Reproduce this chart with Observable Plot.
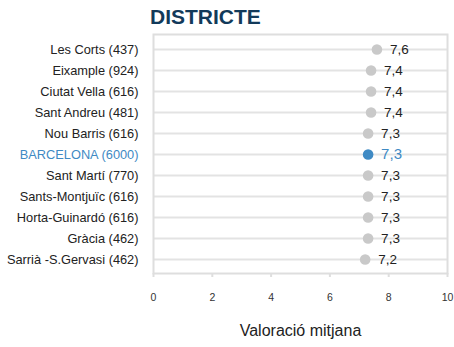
<!DOCTYPE html>
<html>
<head>
<meta charset="utf-8">
<script src="https://cdn.jsdelivr.net/npm/d3@7"></script>
<script src="https://cdn.jsdelivr.net/npm/@observablehq/plot@0.6"></script>
<style>
  body { margin: 0; background: #fff; font-family: "Liberation Sans", Arial, sans-serif; }
  #wrap { position: relative; width: 454px; height: 347px; }
  #title { position: absolute; left: 150px; top: 5px; font-size: 21px; font-weight: bold; color: #123a5a; letter-spacing: 0; }
</style>
</head>
<body>
<div id="wrap">
  <div id="title">DISTRICTE</div>
  <div id="chart"></div>
</div>
<script>
// District names, sample sizes and mean rating (0–10)
const districts = ["Les Corts", "Eixample", "Ciutat Vella", "Sant Andreu", "Nou Barris", "BARCELONA",
                   "Sant Martí", "Sants-Montjuïc", "Horta-Guinardó", "Gràcia", "Sarrià -S.Gervasi"];
const samples = [437, 924, 616, 481, 616, 6000, 770, 616, 616, 462, 462];
const ratings = [7.6, 7.4, 7.4, 7.4, 7.3, 7.3, 7.3, 7.3, 7.3, 7.3, 7.2];
const xTicks = [0, 2, 4, 6, 8, 10];
const highlight = "BARCELONA";

const rows = districts.map((d, i) => ({
  label: `${d} (${samples[i]})`,
  district: d,
  value: ratings[i]
}));

const grey = "#c9c9c9";
const blue = "#3f8ac4";
const fmt = v => v.toFixed(1).replace(".", ",");

const chart = Plot.plot({
  width: 454,
  height: 347,
  marginTop: 34,
  marginBottom: 74,
  marginLeft: 153,
  marginRight: 7,
  style: { fontFamily: "Liberation Sans, Arial, sans-serif", background: "transparent" },
  x: { domain: [0, 10], ticks: xTicks },
  y: { type: "point", domain: rows.map(r => r.label), padding: 0.6, axis: null },
  marks: [
    Plot.ruleY(rows, { y: "label", stroke: "#e3e3e3", strokeWidth: 2 }),
    Plot.frame({ stroke: "#dedede", strokeWidth: 2 }),
    Plot.axisX({
      ticks: xTicks, tickSize: 4, tickPadding: 16, stroke: "#dedede", strokeWidth: 2,
      fontSize: 10.5, fill: "#333", label: null
    }),
    Plot.text(["Valoració mitjana"], {
      frameAnchor: "bottom", dy: 62, fontSize: 16, fill: "#222"
    }),
    Plot.text(rows, {
      x: () => 0, y: "label", text: "label", textAnchor: "end", dx: -15, fontSize: 12.8,
      fill: d => d.district === highlight ? blue : "#222"
    }),
    Plot.dot(rows, {
      x: "value", y: "label", r: 5.3,
      fill: d => d.district === highlight ? blue : grey
    }),
    Plot.text(rows, {
      x: "value", y: "label", text: d => fmt(d.value), textAnchor: "start", dx: 13,
      fontSize: d => d.district === highlight ? 15 : 13.5,
      fill: d => d.district === highlight ? blue : "#222"
    })
  ]
});
document.getElementById("chart").appendChild(chart);
</script>
</body>
</html>
